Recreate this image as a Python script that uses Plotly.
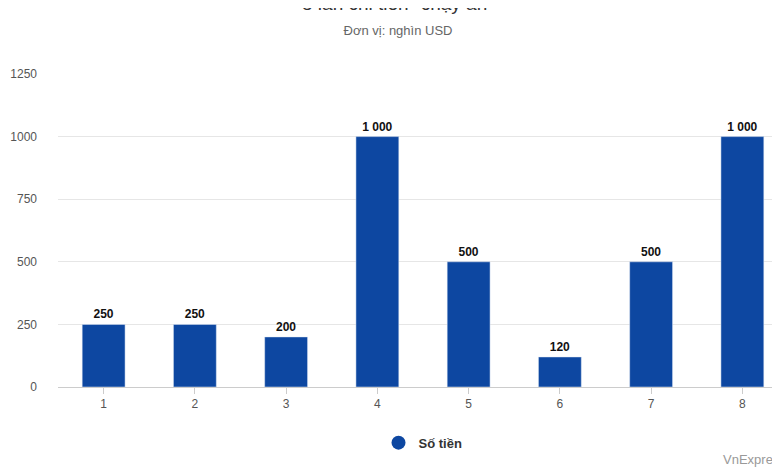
import plotly.graph_objects as go

lan_chi = ["1", "2", "3", "4", "5", "6", "7", "8"]
so_tien = [250, 250, 200, 1000, 500, 120, 500, 1000]
nhan = ["250", "250", "200", "1 000", "500", "120", "500", "1 000"]

mau = "#0d47a1"

fig = go.Figure()
fig.add_trace(go.Bar(x=lan_chi, y=so_tien, text=["<b>%s</b>" % t for t in nhan],
                     textposition="outside",
                     textfont=dict(size=12, color="#111"),
                     marker_color=mau, width=0.47, showlegend=False, cliponaxis=False))
# marker tròn cho legend
fig.add_trace(go.Scatter(x=[None], y=[None], mode="markers", name="<b>Số tiền</b>",
                         marker=dict(color=mau, size=14, symbol="circle")))

fig.update_layout(
    width=780, height=470, paper_bgcolor="white", plot_bgcolor="white",
    margin=dict(l=50, r=0, t=66, b=91, autoexpand=False),
    font=dict(family="Arial, Liberation Sans", color="#555", size=12),
    title=dict(text='8 lần chi tiền "chạy án"<br><span style="font-size:13px;color:#666">Đơn vị: nghìn USD</span>',
               x=0.5, xanchor="center", y=0.995, yanchor="top",
               font=dict(size=19, color="#333")),
    showlegend=True,
    legend=dict(orientation="h", x=0.5, xanchor="center", y=-0.13, yanchor="top",
                font=dict(size=13, color="#333")),
    xaxis=dict(showgrid=False, showline=True, linecolor="#ccc", ticks="outside",
               tickcolor="#ccc", ticklen=6, tickfont=dict(color="#555")),
    yaxis=dict(range=[0, 1250], tickvals=[0, 250, 500, 750, 1000, 1250],
               gridcolor="#e6e6e6", zeroline=False, ticklabelstandoff=20,
               automargin=False, tickfont=dict(color="#555")),
    annotations=[dict(text="VnExpress", x=1, xref="paper", xanchor="right",
                      y=-0.2, yref="paper", yanchor="top", showarrow=False,
                      font=dict(size=13, color="#999"))],
)

fig.write_html("out.html")
